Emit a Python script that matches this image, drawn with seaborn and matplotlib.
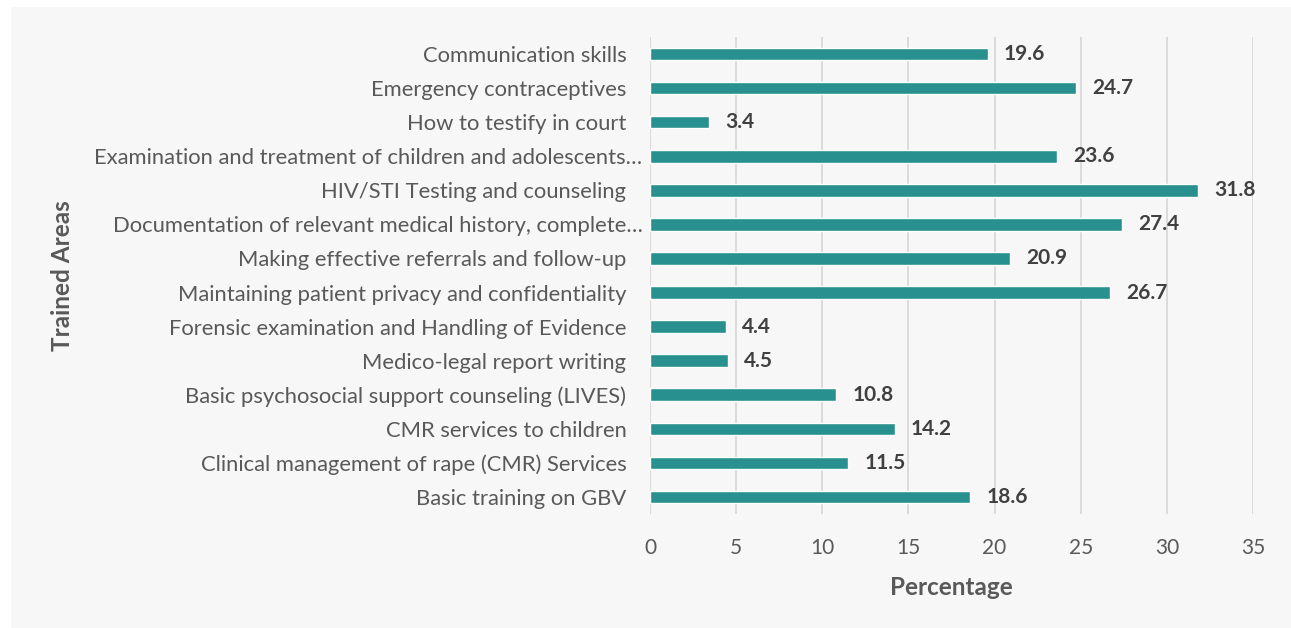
import matplotlib
matplotlib.use("Agg")
import matplotlib.pyplot as plt
import seaborn as sns
import pandas as pd
from matplotlib.patches import Rectangle
from matplotlib.transforms import ScaledTranslation

categories = [
    "Communication skills",
    "Emergency contraceptives",
    "How to testify in court",
    "Examination and treatment of children and adolescents…",
    "HIV/STI Testing and counseling",
    "Documentation of relevant medical history, complete…",
    "Making effective referrals and follow-up",
    "Maintaining patient privacy and confidentiality",
    "Forensic examination and Handling of Evidence",
    "Medico-legal report writing",
    "Basic psychosocial support counseling (LIVES)",
    "CMR services to children",
    "Clinical management of rape (CMR) Services",
    "Basic training on GBV",
]
values = [19.6, 24.7, 3.4, 23.6, 31.8, 27.4, 20.9, 26.7, 4.4, 4.5, 10.8, 14.2, 11.5, 18.6]
xticks = [0, 5, 10, 15, 20, 25, 30, 35]

df = pd.DataFrame({"area": categories, "pct": values})

sns.set_theme(style="white")
plt.rcParams["font.family"] = ["Lato", "DejaVu Sans"]

fig = plt.figure(figsize=(12.91, 6.28), dpi=100)
fig.patch.set_facecolor("white")
fig.patches.append(Rectangle((11 / 1291, 0), 1 - 11 / 1291, 1 - 7 / 628,
                             transform=fig.transFigure, facecolor="#f7f7f7",
                             edgecolor="none", zorder=-10))

ax = fig.add_axes([650 / 1291, 1 - 514 / 628, (1253 - 650) / 1291, (514 - 37) / 628])
ax.set_facecolor("none")

sns.barplot(data=df, y="area", x="pct", orient="h", color="#28918f",
            saturation=1, width=0.37, ax=ax, zorder=3)

for i, v in enumerate(values):
    ax.text(v + 0.95, i, f"{v:.1f}", va="center", ha="left", fontsize=15,
            fontweight="bold", color="#404040")

ax.set_xlim(0, 35)
ax.set_xticks(xticks)
ax.set_xticklabels([str(t) for t in xticks])
ax.grid(axis="x", color="#d9d9d9", linewidth=1.3, zorder=0)
ax.grid(axis="y", visible=False)
for s in ax.spines.values():
    s.set_visible(False)
ax.tick_params(axis="x", length=0, labelsize=15, labelcolor="#595959", pad=17)
ax.tick_params(axis="y", length=0, labelsize=15.8, labelcolor="#595959", pad=17)

for lab in ax.get_yticklabels():
    if lab.get_text().endswith("…"):
        lab.set_transform(lab.get_transform() + ScaledTranslation(16 / 100, 0, fig.dpi_scale_trans))

ax.set_xlabel("Percentage", fontsize=17.5, fontweight="bold", color="#595959", labelpad=13)
ax.set_ylabel("")
fig.text(62 / 1291, 1 - 276 / 628, "Trained Areas", rotation=90, fontsize=17.5,
         fontweight="bold", color="#595959", ha="center", va="center")

fig.savefig("out.png", dpi=100, facecolor=fig.get_facecolor())
